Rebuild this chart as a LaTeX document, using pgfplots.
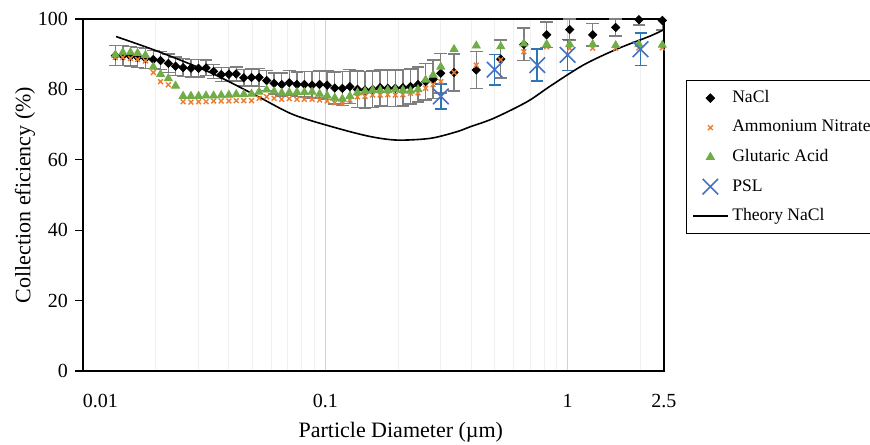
\documentclass[border=0pt]{standalone}
\usepackage{pgfplots}
\pgfplotsset{compat=1.18}
\usepackage{pgfplotstable}
\usepackage{fontspec}
\setmainfont{Liberation Serif}
\definecolor{anO}{HTML}{ED7D31}
\definecolor{gaG}{HTML}{70AD47}
\definecolor{pslB}{HTML}{4472C4}
\definecolor{pslE}{HTML}{2E75B6}
\definecolor{errG}{HTML}{7F7F7F}

\pgfplotstableread{
d e err
0.0136 89.6 2.8
0.0146 89.6 2.8
0.0157 89.4 2.8
0.0168 89.1 2.8
0.0181 88.8 2.8
0.0195 88.5 2.6
0.0209 88.2 2.6
0.0225 87.4 2.6
0.0241 86.6 2.6
0.0259 86.2 2.5
0.0279 86.0 2.5
0.0300 86.0 2.5
0.0322 86.1 2.2
0.0346 85.1 2.0
0.0372 84.2 2.0
0.0400 84.3 2.0
0.0429 84.4 2.0
0.0461 83.3 2.3
0.0496 83.4 2.4
0.0533 83.4 2.5
0.0573 82.5 2.8
0.0615 81.7 3.0
0.0661 81.4 3.3
0.0710 81.9 3.5
0.0764 81.4 3.5
0.0820 81.4 3.6
0.0882 81.2 3.8
0.0947 81.4 3.8
0.1018 81.2 4.0
0.1094 80.4 4.5
0.1176 80.3 4.8
0.1263 80.8 4.8
0.1358 80.0 5.2
0.1459 79.8 5.2
0.1568 80.0 5.2
0.1685 80.5 5.2
0.1811 80.3 5.2
0.1946 80.3 5.2
0.2091 80.5 5.2
0.2247 80.8 5.0
0.2414 81.4 5.0
0.2595 82.2 5.2
0.2788 82.9 5.5
0.2996 84.6 5.6
0.34 84.8 5.3
0.42 85.5 5.2
0.53 88.6 5.4
0.66 92.8 4.6
0.82 95.5 3.6
1.02 97.0 3.0
1.27 95.5 3.2
1.58 97.6 2.4
1.97 99.8 1.5
2.46 99.6 2.7
}\nacl

\pgfplotstableread{
d e
0.0136 89.1
0.0146 89.1
0.0157 88.8
0.0168 88.5
0.0181 88.1
0.0195 84.8
0.0209 82.2
0.0225 81.3
0.0259 76.5
0.0279 76.4
0.0300 76.5
0.0322 76.5
0.0346 76.7
0.0372 76.7
0.0400 76.7
0.0429 76.8
0.0461 76.8
0.0496 76.8
0.0533 77.5
0.0573 77.9
0.0615 77.5
0.0661 77.2
0.0710 77.4
0.0764 77.2
0.0820 77.2
0.0882 77.2
0.0947 77.0
0.1018 76.7
0.1094 76.2
0.1176 76.0
0.1263 77.0
0.1358 77.9
0.1459 78.0
0.1568 78.4
0.1685 78.4
0.1811 78.5
0.1946 78.4
0.2091 78.5
0.2247 78.9
0.2414 79.0
0.2595 80.3
0.2788 81.4
0.2996 82.2
0.34 84.8
0.42 86.9
0.53 88.4
0.66 90.7
0.82 92.1
1.02 91.7
1.27 91.7
1.58 91.7
1.97 91.8
2.46 91.8
}\amnit

\pgfplotstableread{
d e
0.0136 89.8
0.0146 90.5
0.0157 90.5
0.0168 90.3
0.0181 89.7
0.0195 86.4
0.0209 84.3
0.0225 83.1
0.0241 81.0
0.0259 78.1
0.0279 78.1
0.0300 78.1
0.0322 78.2
0.0346 78.2
0.0372 78.3
0.0400 78.4
0.0429 78.6
0.0461 78.6
0.0496 78.7
0.0533 79.3
0.0573 79.9
0.0615 79.4
0.0661 79.0
0.0710 79.1
0.0764 79.2
0.0820 79.2
0.0882 79.3
0.0947 78.7
0.1018 78.2
0.1094 77.6
0.1176 77.3
0.1263 78.1
0.1358 79.1
0.1459 79.5
0.1568 79.8
0.1685 79.8
0.1811 79.8
0.1946 80.0
0.2091 79.8
0.2247 79.6
0.2414 80.0
0.2595 82.7
0.2788 84.1
0.2996 86.4
0.34 91.4
0.42 92.4
0.53 92.2
0.66 93.0
0.82 92.8
1.02 92.8
1.27 92.8
1.58 92.5
1.97 92.8
2.46 92.6
}\glut

\pgfplotstableread{
d e err
0.30 78.0 3.6
0.50 85.6 4.3
0.75 86.9 4.5
1.00 89.8 4.4
2.00 91.4 4.6
}\psl

\pgfplotstableread{
d e
0.0137 95.0
0.0202 90.9
0.0335 84.8
0.053 77.9
0.074 72.8
0.1117 69.0
0.1535 66.6
0.198 65.6
0.2716 66.1
0.350 68.0
0.397 69.4
0.496 71.8
0.681 76.5
0.851 81.0
1.167 87.0
1.604 91.5
2.20 95.2
2.50 97.0
}\theory

\begin{document}
\begin{tikzpicture}
\begin{axis}[
  name=ax,
  width=290.5pt, height=176pt, scale only axis,
  xmode=log, xmin=0.01, xmax=2.5, ymin=0, ymax=100,
  xtick={0.01,0.1,1,2.5},
  xticklabels={\makebox[0pt][l]{0.01},0.1,1,2.5},
  minor xtick={0.02,0.03,0.04,0.05,0.06,0.07,0.08,0.09,0.2,0.3,0.4,0.5,0.6,0.7,0.8,0.9,2},
  xmajorgrids, xminorgrids,
  major grid style={draw=gray!35, line width=0.5pt},
  minor grid style={draw=gray!12, line width=0.5pt},
  ytick={0,20,40,60,80,100},
  ytick pos=left, xtick pos=bottom,
  tick align=outside,
  xtick style={draw=none},
  minor tick length=0pt,
  ytick style={black, line width=0.6pt},
  major tick length=4pt,
  axis line style={black, line width=0.9pt},
  /pgf/number format/assume math mode=true,
  tick label style={font=\fontsize{10}{12}\selectfont},
  xticklabel style={yshift=-4pt},
  label style={font=\fontsize{11}{13}\selectfont},
  xlabel={Particle Diameter (µm)},
  ylabel={Collection eficiency (\%)},
  xlabel style={at={(axis description cs:0.547,-0.173)}, anchor=center},
  ylabel style={at={(axis description cs:-0.0998,0.5)}, anchor=center},
  legend style={at={(axis description cs:1.0379,0.8267)}, anchor=north west,
    draw=black, line width=0.5pt, font=\fontsize{8.8}{11}\selectfont,
    row sep=3.3pt, inner sep=3pt},
  legend cell align=left,
]
\addplot[only marks, mark=square*, mark size=1.45pt, black, mark options={rotate=45},
  error bars/.cd, y dir=both, y explicit,
  error bar style={errG, line width=0.7pt},
  error mark options={rotate=90, errG, mark size=3.2pt, line width=0.7pt}]
  table[x=d, y=e, y error=err]{\nacl};
\addlegendentry{NaCl}
\addplot[only marks, mark=x, mark size=1.7pt, anO, mark options={line width=0.7pt}]
  table[x=d, y=e]{\amnit};
\addlegendentry{Ammonium Nitrate}
\addplot[only marks, mark=triangle*, mark size=2.3pt, gaG]
  table[x=d, y=e]{\glut};
\addlegendentry{Glutaric Acid}
\addplot[only marks, mark=x, mark size=5.5pt, pslB, mark options={line width=0.8pt},
  error bars/.cd, y dir=both, y explicit,
  error bar style={pslE, line width=0.8pt},
  error mark options={rotate=90, pslE, mark size=3pt, line width=0.8pt}]
  table[x=d, y=e, y error=err]{\psl};
\addlegendentry{PSL}
\addplot[black, line width=0.8pt, smooth, no marks]
  table[x=d, y=e]{\theory};
\addlegendentry{Theory NaCl}
\end{axis}
\pgfresetboundingbox
\path[use as bounding box] (ax.south west) ++(-41.5pt,-36.5pt) rectangle ++(435pt,222pt);
\end{tikzpicture}
\end{document}
